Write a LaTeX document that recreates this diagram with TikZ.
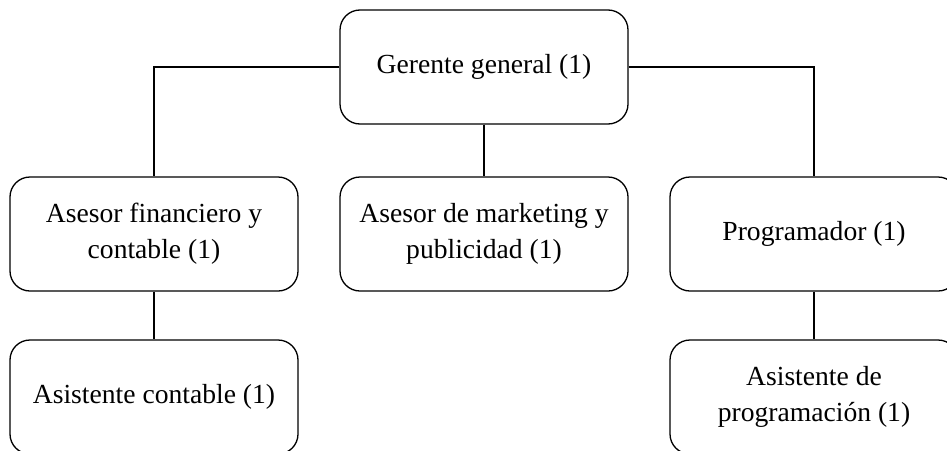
\documentclass[tikz,border=0pt]{standalone}
\usepackage{fontspec}
\setmainfont{Liberation Serif}
\begin{document}
\begin{tikzpicture}[x=1pt,y=-1pt,
  box/.style={draw=black, line width=1.3pt, rounded corners=20pt, rectangle,
    minimum width=288pt, minimum height=114pt, align=center, inner sep=0pt,
    font=\fontsize{27.6}{36}\selectfont, fill=white},
  conn/.style={draw=black, line width=1.6pt}]
\useasboundingbox (0,0) rectangle (947,450);
\clip (0,0) rectangle (947,450);
\fill[white] (0,0) rectangle (947,450);
\node[box] (g) at (484,67) {Gerente general (1)};
\node[box] (a) at (154,234) {Asesor financiero y\\contable (1)};
\node[box] (m) at (484,234) {Asesor de marketing y\\publicidad (1)};
\node[box] (p) at (814,234) {Programador (1)};
\node[box] (ac) at (154,397) {Asistente contable (1)};
\node[box] (ap) at (814,397) {Asistente de\\programación (1)};
\draw[conn] (g.west) -| (a.north);
\draw[conn] (g.south) -- (m.north);
\draw[conn] (g.east) -| (p.north);
\draw[conn] (a.south) -- (ac.north);
\draw[conn] (p.south) -- (ap.north);
\end{tikzpicture}
\end{document}
